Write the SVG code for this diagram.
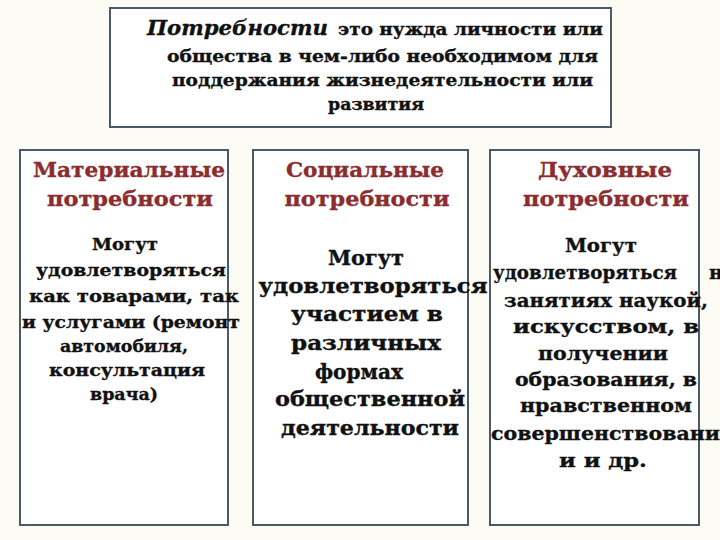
<svg xmlns="http://www.w3.org/2000/svg" width="720" height="540" viewBox="0 0 720 540">
<style>
.box{fill:#ffffff;stroke:#4b5a67;stroke-width:2}
text{font-family:"DejaVu Serif","Liberation Serif",serif;font-weight:bold;stroke-width:0.35}
.h{font-size:17px;fill:#111;stroke:#111}
.hi{font-size:21px;font-style:italic;fill:#111;stroke:#111}
.t{font-size:21px;fill:#8b2c2f;stroke:#8b2c2f;text-anchor:middle}
.b1{font-size:17px;fill:#111;stroke:#111;text-anchor:middle}
.b2{font-size:20px;fill:#111;stroke:#111;text-anchor:middle}
.b3{font-size:19px;fill:#111;stroke:#111;text-anchor:middle}
.s{text-anchor:start}
</style>
<rect x="0" y="0" width="720" height="540" fill="#fdfcf4"/>
<g id="definition">
<rect class="box" x="110" y="8" width="501" height="119"/>
<text class="hi" x="147" y="35" textLength="181" lengthAdjust="spacingAndGlyphs">Потребности</text>
<text class="h" x="338" y="35" textLength="265" lengthAdjust="spacingAndGlyphs">это нужда личности или</text>
<text class="h" x="167" y="62" textLength="431" lengthAdjust="spacingAndGlyphs">общества в чем-либо необходимом для</text>
<text class="h" x="172" y="86" textLength="421" lengthAdjust="spacingAndGlyphs">поддержания жизнедеятельности или</text>
<text class="h" x="376" y="110" text-anchor="middle" textLength="96" lengthAdjust="spacingAndGlyphs">развития</text>
</g>
<g id="material">
<rect class="box" x="20" y="150" width="208" height="375"/>
<text class="t" x="129" y="177" textLength="192" lengthAdjust="spacingAndGlyphs">Материальные</text>
<text class="t" x="130" y="206" textLength="166" lengthAdjust="spacingAndGlyphs">потребности</text>
<text class="b1" x="125" y="250" textLength="66" lengthAdjust="spacingAndGlyphs">Могут</text>
<text class="b1" x="131" y="276" textLength="190" lengthAdjust="spacingAndGlyphs">удовлетворяться</text>
<text class="b1" x="134" y="302" textLength="210" lengthAdjust="spacingAndGlyphs">как товарами, так</text>
<text class="b1" x="131" y="328" textLength="218" lengthAdjust="spacingAndGlyphs">и услугами (ремонт</text>
<text class="b1" x="124" y="352" textLength="128" lengthAdjust="spacingAndGlyphs">автомобиля,</text>
<text class="b1" x="127" y="376" textLength="156" lengthAdjust="spacingAndGlyphs">консультация</text>
<text class="b1" x="124" y="400" textLength="68" lengthAdjust="spacingAndGlyphs">врача)</text>
</g>
<g id="social">
<rect class="box" x="253" y="150" width="215" height="375"/>
<text class="t" x="365" y="177" textLength="158" lengthAdjust="spacingAndGlyphs">Социальные</text>
<text class="t" x="367" y="206" textLength="165" lengthAdjust="spacingAndGlyphs">потребности</text>
<text class="b2" x="366" y="265" textLength="76" lengthAdjust="spacingAndGlyphs">Могут</text>
<text class="b2" x="373" y="293" textLength="229" lengthAdjust="spacingAndGlyphs">удовлетворяться</text>
<text class="b2" x="367" y="321" textLength="152" lengthAdjust="spacingAndGlyphs">участием в</text>
<text class="b2" x="366" y="350" textLength="150" lengthAdjust="spacingAndGlyphs">различных</text>
<text class="b2" x="359" y="379" textLength="88" lengthAdjust="spacingAndGlyphs">формах</text>
<text class="b2" x="370" y="406" textLength="190" lengthAdjust="spacingAndGlyphs">общественной</text>
<text class="b2" x="370" y="435" textLength="178" lengthAdjust="spacingAndGlyphs">деятельности</text>
</g>
<g id="spiritual">
<rect class="box" x="490" y="150" width="209" height="375"/>
<text class="t" x="605" y="177" textLength="134" lengthAdjust="spacingAndGlyphs">Духовные</text>
<text class="t" x="606" y="206" textLength="166" lengthAdjust="spacingAndGlyphs">потребности</text>
<text class="b3" x="601" y="252" textLength="72" lengthAdjust="spacingAndGlyphs">Могут</text>
<text class="b3 s" x="493" y="279" textLength="184" lengthAdjust="spacingAndGlyphs">удовлетворяться</text>
<text class="b3 s" x="709" y="279">н</text>
<text class="b3" x="606" y="307" textLength="204" lengthAdjust="spacingAndGlyphs">занятиях наукой,</text>
<text class="b3" x="606" y="333" textLength="186" lengthAdjust="spacingAndGlyphs">искусством, в</text>
<text class="b3" x="603" y="360" textLength="130" lengthAdjust="spacingAndGlyphs">получении</text>
<text class="b3" x="606" y="386" textLength="182" lengthAdjust="spacingAndGlyphs">образования, в</text>
<text class="b3" x="606" y="412" textLength="172" lengthAdjust="spacingAndGlyphs">нравственном</text>
<text class="b3 s" x="491" y="440" textLength="229" lengthAdjust="spacingAndGlyphs">совершенствовани</text>
<text class="b3" x="603" y="467" textLength="88" lengthAdjust="spacingAndGlyphs">и и др.</text>
</g>
</svg>
